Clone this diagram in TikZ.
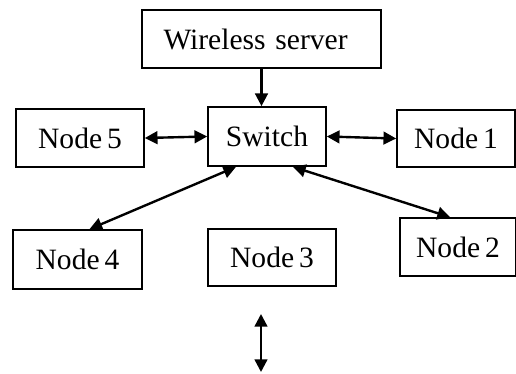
\documentclass[tikz,border=0pt]{standalone}
\usepackage{fontspec}
\setmainfont{Liberation Serif}
\usetikzlibrary{arrows.meta,positioning}

\begin{document}
\begin{tikzpicture}[
      x=0.025cm, y=-0.025cm,
      mybox/.style={
         draw=black,
         line width=1.2pt,
         inner sep=0pt,
         font=\fontsize{21}{25}\selectfont},
      myarrow/.style={line width=1.7pt,-{Triangle[length=9pt,width=9pt]}},
      mylink/.style={line width=1.7pt,{Triangle[length=9pt,width=9pt]}-{Triangle[length=9pt,width=9pt]}}
      ]
      \useasboundingbox (0,0) rectangle (516,374);
      \node[mybox,minimum width=239*0.025cm,minimum height=58*0.025cm,
            text width=196*0.025cm,align=left] (srv) at (261.5,39) {Wireless server};
      \node[mybox,minimum width=118*0.025cm,minimum height=59*0.025cm] (sw) at (267,136.5) {Switch};
      \node[mybox,minimum width=128*0.025cm,minimum height=58*0.025cm] (n5) at (80,138) {Node\,5};
      \node[mybox,minimum width=118*0.025cm,minimum height=57*0.025cm] (n1) at (456,138.5) {Node\,1};
      \node[mybox,minimum width=129*0.025cm,minimum height=59*0.025cm] (n4) at (77.5,259.5) {Node\,4};
      \node[mybox,minimum width=128*0.025cm,minimum height=57*0.025cm] (n3) at (272,257.5) {Node\,3};
      \node[mybox,minimum width=116*0.025cm,minimum height=58*0.025cm] (n2) at (458,247) {Node\,2};
      \coordinate (up) at (261,314);
      \coordinate (down) at (261,372);

    \draw [myarrow] (srv.south) -- (srv.south |- sw.north);
    \foreach \i/\j in {% start point/end point
      (n5.east)/(sw.west),
      (sw.east)/(n1.west),
      {([xshift=-7.75mm]sw.south)}/{([xshift=3mm]n4.north)},
      {([xshift=6.5mm]sw.south)}/{([xshift=-2mm]n2.north)},
      (up)/(down)}
    \draw [mylink] \i -- \j;
    \end{tikzpicture}
\end{document}
